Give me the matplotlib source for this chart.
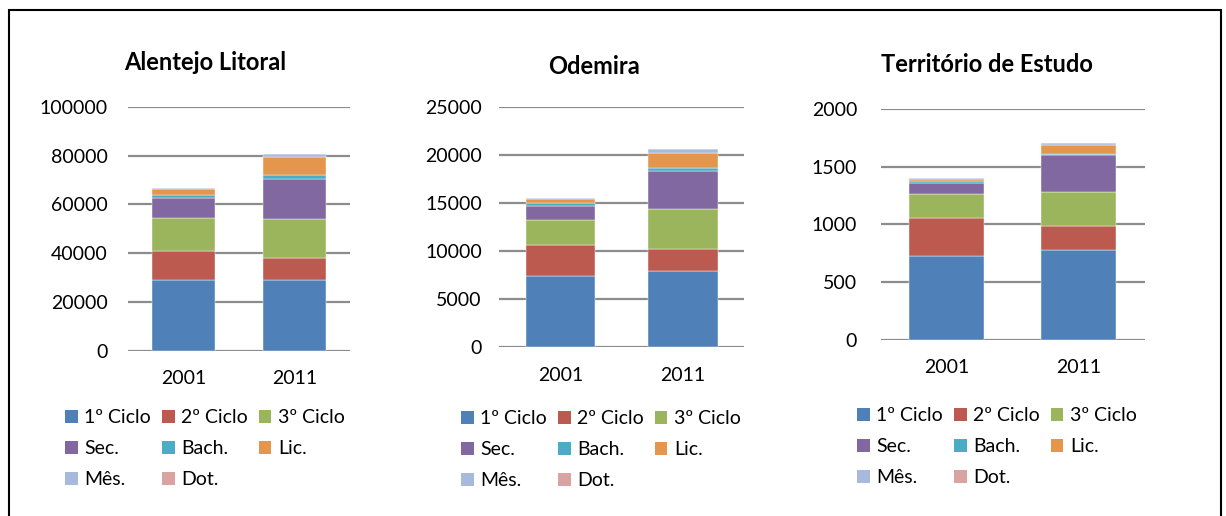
import matplotlib
import matplotlib.pyplot as plt
from matplotlib.patches import Patch, Rectangle

matplotlib.use("Agg")

plt.rcParams["font.family"] = ["Lato", "DejaVu Sans"]

years = ["2001", "2011"]
levels = ["1º Ciclo", "2º Ciclo", "3º Ciclo", "Sec.", "Bach.", "Lic.", "Mês.", "Dot."]
colors = ["#4F81B8", "#BC5A50", "#9BB55C", "#8168A0", "#4BACC6", "#E3964C", "#A7B9DD", "#D9A3A2"]

# values per level, [2001, 2011]
alentejo = [
    [28900, 29000],
    [12200, 9200],
    [13300, 15800],
    [8450, 16550],
    [1100, 1350],
    [2450, 7550],
    [350, 1200],
    [60, 120],
]
odemira = [
    [7380, 7930],
    [3250, 2260],
    [2630, 4160],
    [1460, 4010],
    [280, 310],
    [450, 1560],
    [90, 340],
    [15, 30],
]
territorio = [
    [724, 776],
    [334, 213],
    [205, 291],
    [98, 318],
    [14, 13],
    [15, 73],
    [8, 21],
    [2, 3],
]

titles = ["Alentejo Litoral", "Odemira", "Território de Estudo"]
datasets = [alentejo, odemira, territorio]
ymax = [100000, 25000, 2000]
ystep = [20000, 5000, 500]

W, H = 1226, 516
fig = plt.figure(figsize=(W / 100, H / 100), dpi=100)

# axes boxes in pixels: left, right, y of zero, y of top
boxes = [(127.7, 350, 350.7, 107), (499.2, 744.3, 347.3, 106.7), (880.7, 1144.8, 340, 108.8)]
title_pos = [(205, 63), (594, 66), (987, 65)]
legend_pos = [(65, 409), (461, 410), (857, 407)]
ypads = [14.5, 12.5, 17]

for k in range(3):
    l, r, y0, y1 = boxes[k]
    ax = fig.add_axes([l / W, (H - y0) / H, (r - l) / W, (y0 - y1) / H])
    data = datasets[k]
    bottom = [0, 0]
    handles = []
    for i, vals in enumerate(data):
        ax.bar([0, 1], vals, width=0.57, bottom=bottom, color=colors[i],
               edgecolor="white", linewidth=0.3)
        bottom = [bottom[j] + vals[j] for j in range(2)]
        handles.append(Patch(facecolor=colors[i], edgecolor="none"))
    ax.set_xlim(-0.5, 1.5)
    ax.set_ylim(0, ymax[k])
    ax.set_yticks(range(0, ymax[k] + 1, ystep[k]))
    ax.set_xticks([0, 1])
    ax.set_xticklabels(years)
    ax.grid(axis="y", color="#8c8c8c", linewidth=1.6)
    ax.set_axisbelow(True)
    for s in ax.spines.values():
        s.set_visible(False)
    ax.tick_params(axis="y", length=0, pad=ypads[k], labelsize=14, colors="black")
    ax.tick_params(axis="x", length=0, pad=14, labelsize=14)

    tx, ty = title_pos[k]
    fig.text(tx / W, 1 - ty / H, titles[k], ha="center", va="center",
             fontsize=17, fontweight="bold")

    order = [0, 3, 6, 1, 4, 7, 2, 5]
    lx, ly = legend_pos[k]
    fig.legend([handles[i] for i in order], [levels[i] for i in order],
               loc="upper left", bbox_to_anchor=(lx / W, 1 - ly / H),
               ncol=3, frameon=False, fontsize=14, handlelength=0.65,
               handleheight=0.65, handletextpad=0.35, columnspacing=0.55,
               labelspacing=0.72, borderaxespad=0, borderpad=0)

fig.patches.append(Rectangle((9 / W, -0.05), 1212 / W, 1 - 10 / H + 0.05,
                             transform=fig.transFigure, fill=False,
                             edgecolor="black", linewidth=1.5))

plt.savefig("out.png", dpi=100)
